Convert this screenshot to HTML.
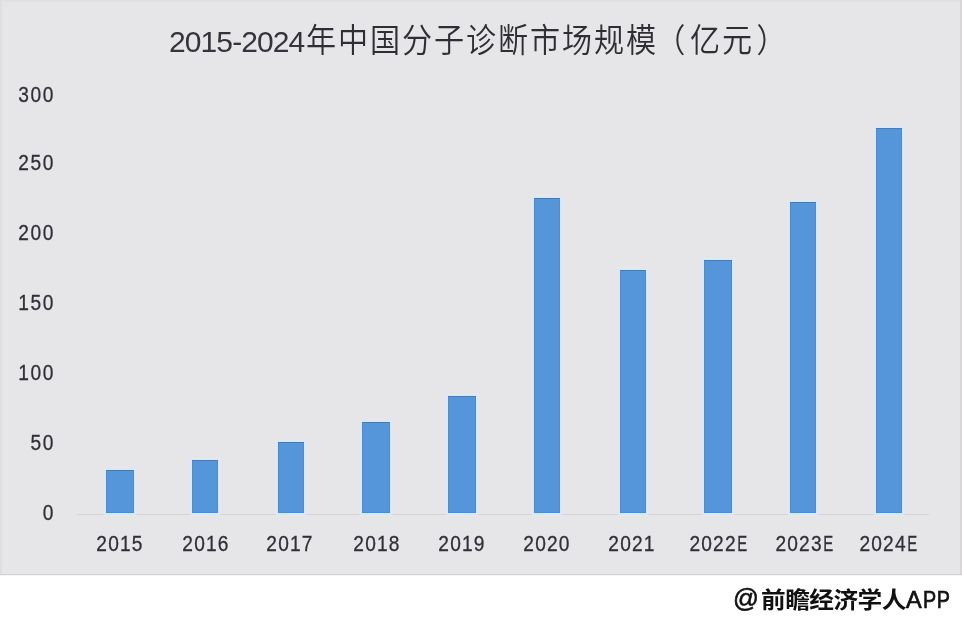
<!DOCTYPE html>
<html lang="zh-CN">
<head>
<meta charset="utf-8">
<title>2015-2024年中国分子诊断市场规模（亿元）</title>
<style>
  html, body { margin: 0; padding: 0; background: #ffffff; }
  body { width: 962px; height: 622px; overflow: hidden; position: relative;
         font-family: "Liberation Sans", "Noto Sans CJK SC", sans-serif; color: #3b3b44; }
  #chart { position: absolute; left: 0; top: 0; width: 962px; height: 576px; background: #e6e6e8; overflow: hidden; }
  .edge-b { position: absolute; left: 0; right: 0; top: 574px; height: 1px; background: #cfd0d1; box-shadow: 0 1px 0 #f4f4f5; }
  .edge-r { position: absolute; left: 960px; width: 2px; top: 0; height: 575px; background: #d9d7d6; }
  .edge-t { position: absolute; left: 0; right: 0; top: 0; height: 2px; background: #dfe0e1; }
  .edge-l { position: absolute; left: 0; width: 3px; top: 0; height: 575px; background: linear-gradient(to right, #dbdbdd, #e3e3e5 60%, #e6e6e8); }
  .title { position: absolute; left: 169px; top: 18px; height: 46px; line-height: 46px; white-space: nowrap;
           font-size: 32px; font-weight: 350; color: #2e2e35; text-spacing-trim: space-all; }
  .title .n { font-size: 30px; font-weight: 400; letter-spacing: -0.9px; color: #34343c; }
  .title .pl { position: relative; left: -2.8px; }
  .title .pr { position: relative; left: 2.6px; }
  .title .c { display: inline-block; margin-left: 1.5px; letter-spacing: 2.04px; transform: scale(0.94, 1.03); transform-origin: 0 60%; }
  .ylab { position: absolute; left: 0; width: 55px; margin-top: 0.5px; text-align: right; font-size: 22px; line-height: 24px; height: 24px; letter-spacing: 1.8px; transform: scaleX(0.87); transform-origin: 100% 50%; -webkit-text-stroke: 0.3px #2f2f38; color: #2f2f38; }
  .xlab { position: absolute; top: 532px; width: 100px; margin-left: -50px; text-align: center; font-size: 22px; line-height: 24px; white-space: nowrap; letter-spacing: 1.4px; transform: scaleX(0.87); transform-origin: 50% 50%; -webkit-text-stroke: 0.3px #2f2f38; color: #2f2f38; }
  .xlab i { font-style: normal; display: inline-block; transform: scaleX(0.78); transform-origin: 0 50%; margin-right: -3.5px; letter-spacing: 0; }
  .axis { position: absolute; left: 77px; top: 514px; width: 852px; height: 1px; background: #d3d3d5; }
  .bar { position: absolute; background: #5596da; box-shadow: inset 0 1px 0 rgba(40,90,150,0.3), inset 0 0 0 1px rgba(40,90,150,0.15), 0 0 0 1px rgba(214,232,252,0.95), 0 0 0 2px rgba(222,232,246,0.85), 0 0 0 3px rgba(228,232,242,0.5); }
  .wm { position: absolute; left: 0; top: 0; width: 962px; height: 622px; color: #111; white-space: nowrap; pointer-events: none; }
  .wm span { position: absolute; line-height: 34px; height: 34px; top: 583px; }
  .wm .at { left: 733px; font-size: 25.5px; top: 581px; -webkit-text-stroke: 0.6px #111; }
  .wm .cn { left: 761px; font-size: 24.7px; font-weight: 700; letter-spacing: -0.55px; transform: scaleY(0.93); transform-origin: 0 27px; }
  .wm .app { left: 907.5px; font-size: 23.5px; letter-spacing: -1.3px; top: 582.5px; -webkit-text-stroke: 0.7px #111; }
  .wm .app b, .wm .app i { position: static; font-weight: 400; font-style: normal; display: inline-block; height: auto; }
  .wm .app b { position: relative; left: -1.6px; top: 0; }
  .wm .app i { transform: scaleX(0.84); transform-origin: 0 50%; letter-spacing: 0.6px; margin-left: 1px; }
</style>
</head>
<body>
<div id="chart">
  <div class="title"><span class="n">2015-2024</span><span class="c">年中国分子诊断市场规模<span class="pl">（</span>亿元<span class="pr">）</span></span></div>

  <div class="ylab" style="top:82px">300</div>
  <div class="ylab" style="top:150px">250</div>
  <div class="ylab" style="top:220px">200</div>
  <div class="ylab" style="top:290px">150</div>
  <div class="ylab" style="top:360px">100</div>
  <div class="ylab" style="top:430px">50</div>
  <div class="ylab" style="top:500px">0</div>

  <div class="axis"></div>

  <div class="bar" style="left:106px;width:28px;top:470px;height:43px"></div>
  <div class="bar" style="left:192px;width:26px;top:460px;height:53px"></div>
  <div class="bar" style="left:278px;width:26px;top:442px;height:71px"></div>
  <div class="bar" style="left:362px;width:28px;top:422px;height:91px"></div>
  <div class="bar" style="left:448px;width:28px;top:396px;height:117px"></div>
  <div class="bar" style="left:534px;width:26px;top:198px;height:315px"></div>
  <div class="bar" style="left:620px;width:26px;top:270px;height:243px"></div>
  <div class="bar" style="left:704px;width:28px;top:260px;height:253px"></div>
  <div class="bar" style="left:790px;width:26px;top:202px;height:311px"></div>
  <div class="bar" style="left:876px;width:26px;top:128px;height:385px"></div>

  <div class="xlab" style="left:120px">2015</div>
  <div class="xlab" style="left:206px">2016</div>
  <div class="xlab" style="left:290px">2017</div>
  <div class="xlab" style="left:377px">2018</div>
  <div class="xlab" style="left:462px">2019</div>
  <div class="xlab" style="left:547px">2020</div>
  <div class="xlab" style="left:632px">2021</div>
  <div class="xlab" style="left:718px">2022<i>E</i></div>
  <div class="xlab" style="left:804px">2023<i>E</i></div>
  <div class="xlab" style="left:888px">2024<i>E</i></div>

  <div class="edge-t"></div><div class="edge-l"></div><div class="edge-r"></div><div class="edge-b"></div>
</div>
<div class="wm"><span class="at">@</span><span class="cn">前瞻经济学人</span><span class="app"><b>A</b><i>PP</i></span></div>
</body>
</html>
